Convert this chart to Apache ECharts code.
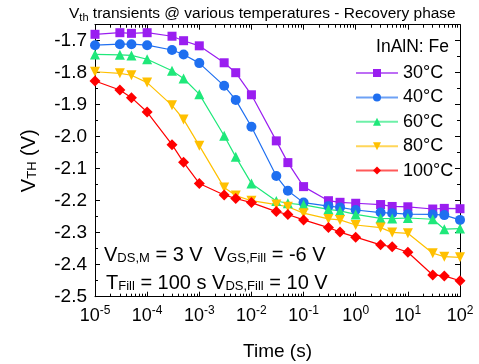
<!DOCTYPE html>
<html><head><meta charset="utf-8">
<script src="https://cdn.jsdelivr.net/npm/echarts@6/dist/echarts.min.js"></script>
<style>html,body{margin:0;padding:0;background:#fff}#c{width:479px;height:364px}</style>
</head><body><div id="c"></div>
<script>
var times = [1e-5,3e-5,5e-5,1e-4,3e-4,5e-4,1e-3,3e-3,5e-3,1e-2,3e-2,5e-2,1e-1,3e-1,5e-1,1,3,5,10,30,50,100];
var v30 = [-1.680,-1.675,-1.677,-1.675,-1.686,-1.700,-1.716,-1.769,-1.800,-1.869,-2.013,-2.081,-2.156,-2.200,-2.205,-2.208,-2.212,-2.218,-2.219,-2.226,-2.224,-2.225];
var v40 = [-1.714,-1.711,-1.711,-1.714,-1.729,-1.743,-1.770,-1.841,-1.885,-1.969,-2.123,-2.169,-2.206,-2.217,-2.221,-2.229,-2.237,-2.239,-2.242,-2.243,-2.245,-2.260];
var v60 = [-1.743,-1.744,-1.746,-1.758,-1.794,-1.818,-1.867,-1.997,-2.063,-2.146,-2.201,-2.208,-2.213,-2.227,-2.232,-2.243,-2.255,-2.256,-2.254,-2.258,-2.289,-2.287];
var v80 = [-1.797,-1.802,-1.808,-1.831,-1.902,-1.946,-2.028,-2.159,-2.184,-2.200,-2.212,-2.219,-2.239,-2.257,-2.260,-2.276,-2.284,-2.299,-2.302,-2.364,-2.375,-2.377];
var v100 = [-1.826,-1.854,-1.878,-1.923,-2.025,-2.080,-2.146,-2.182,-2.193,-2.206,-2.234,-2.243,-2.260,-2.284,-2.298,-2.314,-2.338,-2.344,-2.361,-2.432,-2.435,-2.450];
var seriesNames = ['30°C','40°C','60°C','80°C','100°C'];
var minorTimes = [];
[1e-5,1e-4,1e-3,1e-2,1e-1,1,10].forEach(function(d){ for (var k=2;k<=9;k++) minorTimes.push(+(d*k).toPrecision(3)); });

var FONT = 'Liberation Sans, Arial, sans-serif';
var colors = ['#9a1ef0','#1f6ff0','#1fe87a','#ffc000','#ff0000'];
var symbols = ['rect','circle','triangle','triangle','diamond'];
var sizes = [9,10,10,10,11];
var rotates = [0,0,0,180,0];
var vals = [v30,v40,v60,v80,v100];

var chart = echarts.init(document.getElementById('c'), null, {renderer:'canvas'});
var grid = {left:95, right:19, top:24.7, bottom:67.3, containLabel:false, outerBoundsMode:'none'};
function xMajor(pos, labels) {
  return {type:'log', logBase:10, min:1e-5, max:100, position:pos, gridIndex:0,
    axisLine:{show:true, onZero:false, lineStyle:{color:'#000', width:1}},
    axisTick:{show:true, inside:true, length:5, lineStyle:{color:'#000'}},
    splitLine:{show:false},
    axisLabel:{show:labels, margin:8, fontFamily:FONT,
      formatter:function(v){ var e=Math.round(Math.log10(v)); return '{b|10}{s|'+e+'}'; },
      rich:{b:{fontSize:18, lineHeight:22, fontFamily:FONT, color:'#000'},
            s:{fontSize:12, lineHeight:12, verticalAlign:'top', fontFamily:FONT, color:'#000'}}},
    name: labels ? 'Time (s)' : '', nameLocation:'middle', nameGap:46,
    nameTextStyle:{fontSize:19, fontFamily:FONT, color:'#000'}};
}
function xMinor(pos) {
  return {type:'log', logBase:10, min:1e-5, max:100, position:pos, gridIndex:0,
    axisLine:{show:false}, splitLine:{show:false}, axisLabel:{show:false},
    axisTick:{show:true, inside:true, length:3, customValues:minorTimes, lineStyle:{color:'#000'}}};
}
function yAx(pos, labels) {
  return {type:'value', min:-2.5, max:-1.65, interval:0.1, position:pos, gridIndex:0,
    axisLine:{show:true, onZero:false, lineStyle:{color:'#000', width:1}},
    axisTick:{show:true, inside:true, length:5, lineStyle:{color:'#000'}},
    minorTick:{show:true, splitNumber:2, length:3, lineStyle:{color:'#000'}},
    splitLine:{show:false},
    axisLabel:{show:labels, showMaxLabel:false, margin:8, fontSize:19, fontFamily:FONT, color:'#000',
      formatter:function(v){ return v.toFixed(1); }},
    name: labels ? '{v|V}{s|TH}{v| (V)}' : '', nameLocation:'middle', nameGap:56, nameRotate:90,
    nameTextStyle:{fontFamily:FONT, color:'#000',
      rich:{v:{fontSize:20, lineHeight:20, verticalAlign:'top', fontFamily:FONT, color:'#000'},
            s:{fontSize:13, lineHeight:13, padding:[12,0,0,0], verticalAlign:'bottom', fontFamily:FONT, color:'#000'}}}};
}
var series = seriesNames.map(function(n,i){
  return {name:n, type:'line', xAxisIndex:0, yAxisIndex:0,
    data: times.map(function(t,j){ return [t, vals[i][j]]; }),
    symbol:symbols[i], symbolSize:sizes[i], symbolRotate:rotates[i], showAllSymbol:true,
    lineStyle:{color:colors[i], width:1.2}, itemStyle:{color:colors[i]}, color:colors[i],
    emphasis:{disabled:true}, animation:false};
});
var subRich = {v:{fontSize:20, lineHeight:20, verticalAlign:'top', fontFamily:FONT, fill:'#000'},
  s:{fontSize:13, lineHeight:13, padding:[12,0,0,0], verticalAlign:'bottom', fontFamily:FONT, fill:'#000'}};
chart.setOption({
  animation:false,
  backgroundColor:'#fff',
  title:{text:'{a|V}{s|th}{a| transients @ various temperatures - Recovery phase}', left:64, top:1,
    textStyle:{fontFamily:FONT, fontWeight:'normal', color:'#000',
      rich:{a:{fontSize:15.5, lineHeight:17, verticalAlign:'top', fontFamily:FONT, color:'#000'},
            s:{fontSize:11, lineHeight:11, padding:[9,0,0,0], verticalAlign:'bottom', fontFamily:FONT, color:'#000'}}}},
  grid:grid,
  xAxis:[xMajor('bottom', true), xMinor('bottom'), xMajor('top', false), xMinor('top')],
  yAxis:[yAx('left', true), yAx('right', false)],
  legend:{show:true, orient:'vertical', left:355, top:63, padding:0, itemWidth:42, itemHeight:10, itemGap:4.4,
    data:seriesNames, textStyle:{fontSize:18, lineHeight:20, fontFamily:FONT, color:'#000'},
    lineStyle:{width:2, opacity:0.65}, selectedMode:false},
  graphic:[
    {type:'text', right:30, top:38, style:{text:'InAlN: Fe', fontSize:17.5, fontFamily:FONT, fill:'#000'}},
    {type:'text', left:104, top:240, style:{text:'{v|V}{s|DS,M}{v| = 3 V  V}{s|GS,Fill}{v| = -6 V}', rich:subRich}},
    {type:'text', left:106, top:268, style:{text:'{v|T}{s|Fill}{v| = 100 s V}{s|DS,Fill}{v| = 10 V}', rich:subRich}}
  ],
  series:series
});
</script></body></html>
